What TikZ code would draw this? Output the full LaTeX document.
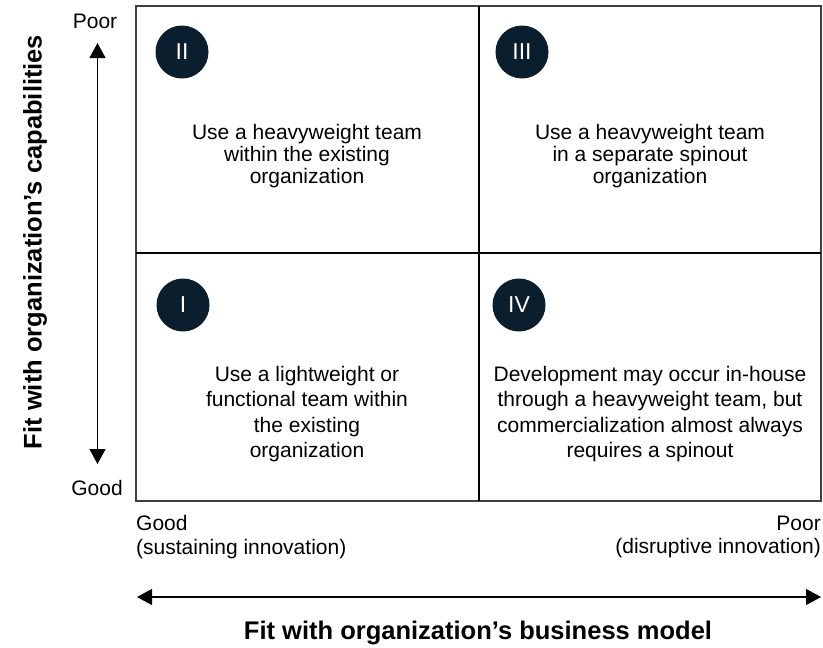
\documentclass[tikz,border=0pt]{standalone}
\usepackage{fontspec}
\setmainfont{Liberation Sans}
\usetikzlibrary{arrows.meta}
\definecolor{navy}{HTML}{0B1E2E}

\begin{document}
\begin{tikzpicture}
  [x=1pt,y=-1pt,every node/.style={inner sep=0pt,font=\fontsize{21}{22}\selectfont}]
  \tikzstyle{badge} = [circle,fill=navy,text=white,minimum size=53pt,font=\fontsize{23}{24}\selectfont]
  \tikzstyle{quad} = [align=center]
  \tikzstyle{lowquad} = [align=center,font=\fontsize{21}{25.3}\selectfont]
  \tikzstyle{axis} = [line width=1.1pt,{Triangle[width=16pt,length=15pt]}-{Triangle[width=16pt,length=15pt]}]
  \tikzstyle{title} = [font=\bfseries\fontsize{25.5}{28}\selectfont]
  \useasboundingbox (0,0) rectangle (823,648);

  % grid
  \coordinate (nw) at (136,6);
  \coordinate (se) at (821,501);
  \coordinate (mtop) at (479,6);
  \coordinate (mbot) at (479,501);
  \coordinate (mleft) at (136,253);
  \coordinate (mright) at (821,253);
  \draw[line width=1.4pt,black!75] (nw) rectangle (se);
  \draw[line width=1.2pt] (mtop) -- (mbot);
  \draw[line width=1.2pt] (mleft) -- (mright);

  \foreach \nm/\x/\y/\num in {one/183/305/I,two/182/52/II,three/522/52/III,four/519/305/IV}
    \node[badge] (\nm) at (\x,\y) {\num};

  \node[quad] (q2) at (307,156) {Use a heavyweight team\\within the existing\\organization};
  \node[quad] (q3) at (650,156) {Use a heavyweight team\\in a separate spinout\\organization};
  \node[lowquad] (q1) at (307,414) {Use a lightweight or\\functional team within\\the existing\\organization};
  \node[lowquad] (q4) at (650,414) {Development may occur in-house\\through a heavyweight team, but\\commercialization almost always\\requires a spinout};

  % axes
  \node (ypoor) at (95,21) {Poor};
  \node (ygood) at (97,488) {Good};
  \coordinate (ytop) at (97.5,43);
  \coordinate (ybot) at (97.5,464);
  \draw[axis] (ybot) -- (ytop);
  \node[anchor=west,align=left,font=\fontsize{21}{23.5}\selectfont] (xgood) at (136,537) {Good\\(sustaining innovation)};
  \node[anchor=east,align=right,font=\fontsize{21}{23.5}\selectfont] (xpoor) at (821,537) {Poor\\(disruptive innovation)};
  \coordinate (xleft) at (137,597);
  \coordinate (xright) at (821,597);
  \draw[axis] (xleft) -- (xright);

  \node[title] (xtitle) at (478,633) {Fit with organization’s business model};
  \node[title,rotate=90] (ytitle) at (35,242) {Fit with organization’s capabilities};

\end{tikzpicture}
\end{document}
